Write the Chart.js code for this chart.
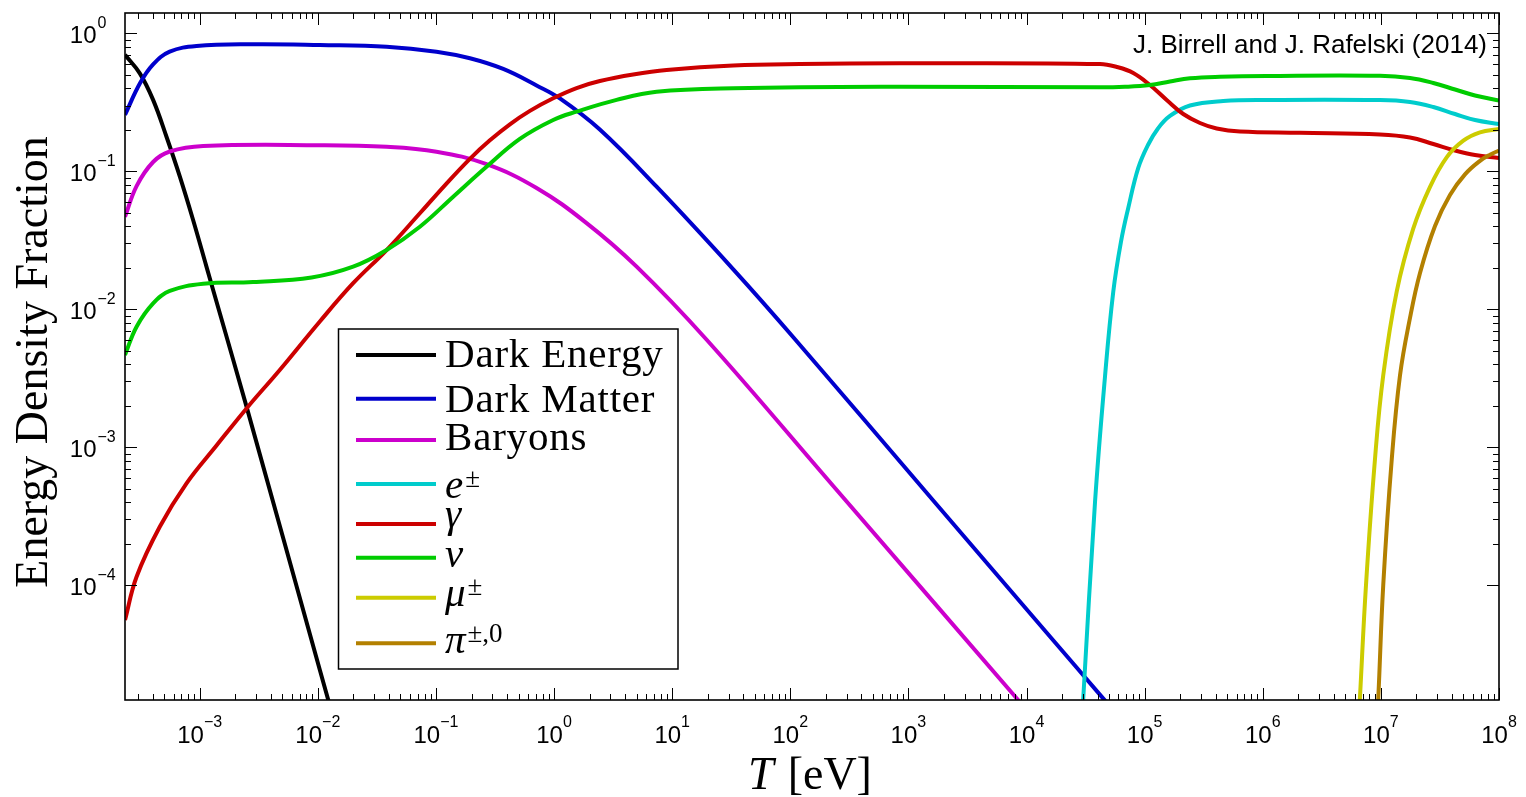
<!DOCTYPE html>
<html>
<head>
<meta charset="utf-8">
<script src="https://cdn.jsdelivr.net/npm/chart.js@4.4.1/dist/chart.umd.min.js"></script>
<style>
html,body{margin:0;padding:0;background:#fff;overflow:hidden}
#wrap{width:1526px;height:797px;position:relative}
</style>
</head>
<body>
<div id="wrap"><canvas id="c" width="1526" height="797"></canvas></div>
<script>
// ---- data (T in eV, energy density fraction) ----
const seriesNames = ["Dark Energy", "Dark Matter", "Baryons", "e", "γ", "ν", "μ", "π"];
const seriesSups  = ["", "", "", "±", "", "", "±", "±,0"];
const seriesColors = ["#000000", "#0000CC", "#CC00CC", "#00CCCC", "#CC0000", "#00CC00", "#CCCC00", "#B38000"];

const darkEnergyT = [2.33e-4, 3.11e-4, 4.03e-4, 5.24e-4, 6.79e-4, 8.79e-4, 1.14e-3, 1.48e-3, 2.49e-3, 1.04e-2, 1.535e-2];
const darkEnergyF = [0.70, 0.514, 0.330, 0.1776, 0.0916, 0.0444, 0.0204, 9.35e-3, 1.97e-3, 2.42e-5, 7.4e-6];

const darkMatterT = [2.33e-4, 3.12e-4, 4.03e-4, 5.57e-4, 9.40e-4, 2.83e-3, 1.04e-2, 3.82e-2, 0.101, 0.194, 0.371, 0.711, 1.12, 2.44, 7.38, 32.9, 106, 1622, 15780, 44670, 61800];
const darkMatterF = [0.257, 0.435, 0.596, 0.738, 0.812, 0.835, 0.825, 0.802, 0.738, 0.661, 0.553, 0.420, 0.338, 0.201, 0.0774, 0.01947, 6.27e-3, 4.11e-4, 4.24e-5, 1.503e-5, 1.085e-5];

const baryonT = [2.33e-4, 2.92e-4, 4.03e-4, 5.58e-4, 1.07e-3, 1.04e-2, 3.82e-2, 0.101, 0.268, 0.711, 1.885, 5.0, 19.5, 231, 8240, 11780];
const baryonF = [0.0469, 0.0783, 0.117, 0.1394, 0.153, 0.155, 0.151, 0.139, 0.1128, 0.0758, 0.0422, 0.0204, 6.04e-3, 5.23e-4, 1.51e-5, 1.06e-5];

const electronT = [28300, 30200, 38000, 46200, 54200, 63000, 72640, 88290, 106700, 129670, 163800, 241830, 463000, 1.079e6, 9.826e6, 1.764e7, 2.78e7, 4.243e7, 6.266e7, 1e8];
const electronF = [5.96e-6, 1.50e-5, 3.99e-4, 3.28e-3, 0.01334, 0.0308, 0.0543, 0.1059, 0.1554, 0.2047, 0.2522, 0.3005, 0.3239, 0.3295, 0.3289, 0.3187, 0.2931, 0.2607, 0.2359, 0.2207];

const photonT = [2.33e-4, 2.92e-4, 4.59e-4, 7.73e-4, 1.387e-3, 2.49e-3, 4.76e-3, 0.0104, 0.0199, 0.0382, 0.0731, 0.119, 0.1938, 0.2862, 0.4227, 0.6243, 0.9826, 1.551, 2.443, 4.675, 8.967, 32.86, 120.6, 847, 41900, 58270, 80080, 110870, 153570, 212260, 293900, 406950, 641100, 2.065e6, 9.826e6, 1.764e7, 2.78e7, 4.243e7, 6.266e7, 1e8];
const photonF = [5.58e-5, 1.15e-4, 2.65e-4, 5.47e-4, 1.028e-3, 1.91e-3, 3.63e-3, 8.16e-3, 0.01545, 0.0269, 0.0497, 0.0793, 0.1234, 0.168, 0.2196, 0.2747, 0.3389, 0.4024, 0.4522, 0.5043, 0.5436, 0.5861, 0.6008, 0.6079, 0.601, 0.5714, 0.5171, 0.4231, 0.3295, 0.2607, 0.2244, 0.2047, 0.1947, 0.1905, 0.1852, 0.1762, 0.158, 0.1418, 0.1315, 0.1251];

const neutrinoT = [2.33e-4, 2.92e-4, 4.03e-4, 5.58e-4, 1.07e-3, 2.83e-3, 8.85e-3, 0.0199, 0.0382, 0.0731, 0.140, 0.268, 0.513, 0.983, 1.549, 3.38, 7.38, 32.9, 847, 41900, 68110, 110900, 163800, 242100, 434100, 1.079e6, 9.826e6, 1.764e7, 2.78e7, 4.243e7, 6.266e7, 1e8];
const neutrinoF = [4.66e-3, 7.48e-3, 0.01104, 0.01358, 0.01531, 0.01578, 0.01702, 0.02037, 0.0269, 0.0397, 0.0656, 0.108, 0.172, 0.236, 0.271, 0.330, 0.378, 0.401, 0.411, 0.407, 0.4107, 0.423, 0.4485, 0.473, 0.4853, 0.492, 0.4934, 0.4757, 0.4376, 0.3925, 0.3552, 0.3266];

const muonT = [6.15e6, 6.65e6, 7.48e6, 8.91e6, 1.047e7, 1.361e7, 1.879e7, 2.606e7, 3.606e7, 4.989e7, 6.902e7, 1e8];
const muonF = [4.4e-6, 1.53e-5, 1.0e-4, 8.17e-4, 3.32e-3, 0.01343, 0.0384, 0.0773, 0.1265, 0.167, 0.192, 0.203];

const pionT = [8.91e6, 9.51e6, 1.047e7, 1.236e7, 1.452e7, 1.764e7, 2.144e7, 2.872e7, 3.846e7, 5.154e7, 6.904e7, 8.39e7, 1e8];
const pionF = [5.4e-6, 1.53e-5, 1.0e-4, 8.17e-4, 3.32e-3, 8.65e-3, 0.01833, 0.04018, 0.06744, 0.09511, 0.1192, 0.1322, 0.1418];

const xTickExps = [-3, -2, -1, 0, 1, 2, 3, 4, 5, 6, 7, 8];
const yTickExps = [0, -1, -2, -3, -4];
const XMIN = 2.33e-4, XMAX = 1e8, YMIN = 1.468e-5, YMAX = 1.408;

const annotationText = "J. Birrell and J. Rafelski (2014)";
const yTitle = "Energy Density Fraction";
const xTitleVar = "T", xTitleUnit = "[eV]";

// ---- build chart ----
const seriesT = [darkEnergyT, darkMatterT, baryonT, electronT, photonT, neutrinoT, muonT, pionT];
const seriesF = [darkEnergyF, darkMatterF, baryonF, electronF, photonF, neutrinoF, muonF, pionF];

const datasets = seriesNames.map((name, i) => ({
  label: name + seriesSups[i],
  data: seriesT[i].map((t, j) => ({x: t, y: seriesF[i][j]})),
  borderColor: seriesColors[i],
  backgroundColor: seriesColors[i],
  borderWidth: 4,
  pointRadius: 0,
  pointHoverRadius: 0,
  showLine: true,
  fill: false,
  tension: 0.4,
  borderJoinStyle: 'round',
  clip: 0,
  order: seriesNames.length - 1 - i
}));

const SANS = "'Liberation Sans', Arial, Helvetica, sans-serif";
const SERIF = "'Liberation Serif', 'Times New Roman', serif";

function supText(s) { return s.replace(/-/g, "\u2212"); }

const framePlugin = {
  id: 'frame',
  afterDatasetsDraw(chart) {
    const ctx = chart.ctx;
    const xs = chart.scales.x, ys = chart.scales.y;
    const a = chart.chartArea;
    ctx.save();
    // minor/major ticks on all four sides
    ctx.strokeStyle = '#000';
    ctx.lineWidth = 1;
    ctx.beginPath();
    for (let k = -4; k <= 8; k++) {
      for (let m = 1; m <= 9; m++) {
        const v = m * Math.pow(10, k);
        const len = m === 1 ? 12 : 6;
        if (v >= XMIN * 0.9999 && v <= XMAX * 1.0001) {
          const px = Math.round(xs.getPixelForValue(v)) + 0.5;
          ctx.moveTo(px, a.bottom); ctx.lineTo(px, a.bottom - len);
          ctx.moveTo(px, a.top); ctx.lineTo(px, a.top + len);
        }
        if (v >= YMIN && v <= YMAX) {
          const py = Math.round(ys.getPixelForValue(v)) + 0.5;
          ctx.moveTo(a.left, py); ctx.lineTo(a.left + len, py);
          ctx.moveTo(a.right, py); ctx.lineTo(a.right - len, py);
        }
      }
    }
    ctx.stroke();
    // axis box
    ctx.lineWidth = 1.6;
    ctx.strokeRect(a.left, a.top, a.right - a.left, a.bottom - a.top);

    // tick labels
    ctx.fillStyle = '#000';
    ctx.textBaseline = 'alphabetic';
    xTickExps.forEach(e => {
      const px = xs.getPixelForValue(Math.pow(10, e));
      ctx.font = "24px " + SANS;
      const w1 = ctx.measureText("10").width;
      ctx.font = "16px " + SANS;
      const sup = supText(String(e));
      const w2 = ctx.measureText(sup).width;
      const x0 = px - (w1 + w2) / 2;
      ctx.font = "24px " + SANS;
      ctx.textAlign = 'left';
      ctx.fillText("10", x0, 743);
      ctx.font = "16px " + SANS;
      ctx.fillText(sup, x0 + w1, 727);
    });
    yTickExps.forEach(e => {
      const py = ys.getPixelForValue(Math.pow(10, e));
      ctx.font = "24px " + SANS;
      ctx.textAlign = 'right';
      ctx.fillText("10", 96.5, py + 9.8);
      ctx.font = "16px " + SANS;
      ctx.textAlign = 'left';
      ctx.fillText(supText(String(e)), 97.5, py - 5.2);
    });

    // annotation
    ctx.font = "26px " + SANS;
    ctx.textAlign = 'right';
    ctx.fillText(annotationText, 1487, 53);

    // y title
    ctx.save();
    ctx.translate(46.5, 362);
    ctx.rotate(-Math.PI / 2);
    ctx.font = "46px " + SERIF;
    ctx.textAlign = 'center';
    ctx.fillText(yTitle, 0, 0);
    ctx.restore();

    // x title
    ctx.textAlign = 'left';
    ctx.font = "italic 46px " + SERIF;
    const wT = ctx.measureText(xTitleVar).width;
    ctx.font = "46px " + SERIF;
    const wU = ctx.measureText(xTitleUnit).width;
    const gap = 14;
    const xs0 = 810 - (wT + gap + wU) / 2;
    ctx.font = "italic 46px " + SERIF;
    ctx.fillText(xTitleVar, xs0, 789);
    ctx.font = "46px " + SERIF;
    ctx.fillText(xTitleUnit, xs0 + wT + gap, 789);

    // legend
    const lx = 338.5, ly = 329, lw = 339.5, lh = 340;
    ctx.fillStyle = '#fff';
    ctx.fillRect(lx, ly, lw, lh);
    ctx.strokeStyle = '#000';
    ctx.lineWidth = 1.5;
    ctx.strokeRect(lx, ly, lw, lh);
    const rowY = [355, 398.7, 440, 484, 524, 557.7, 597.7, 643.3];
    const baseY = [366.7, 411.7, 450, 498.3, 526.7, 566.7, 606, 653.3];
    seriesNames.forEach((name, i) => {
      ctx.strokeStyle = seriesColors[i];
      ctx.lineWidth = 4;
      ctx.beginPath();
      ctx.moveTo(356, rowY[i]);
      ctx.lineTo(436, rowY[i]);
      ctx.stroke();
      ctx.fillStyle = '#000';
      ctx.textAlign = 'left';
      const isMath = i >= 3;
      ctx.font = (isMath ? "italic " : "") + "41px " + SERIF;
      if (!isMath) ctx.letterSpacing = "0.8px";
      ctx.fillText(name, 445, baseY[i]);
      ctx.letterSpacing = "0px";
      if (seriesSups[i]) {
        const w = ctx.measureText(name).width;
        ctx.font = "27px " + SERIF;
        ctx.fillText(seriesSups[i], 445 + w + 2, baseY[i] - 11);
      }
    });
    ctx.restore();
  }
};

const chart = new Chart(document.getElementById('c').getContext('2d'), {
  type: 'scatter',
  data: {datasets},
  options: {
    responsive: false,
    animation: false,
    events: [],
    layout: {padding: {top: 13, right: 27, left: 0, bottom: 0}},
    plugins: {legend: {display: false}, tooltip: {enabled: false}},
    scales: {
      x: {
        type: 'logarithmic', min: XMIN, max: XMAX, bounds: 'data',
        grid: {display: false}, border: {display: false},
        ticks: {display: false},
        afterBuildTicks: s => { s.min = XMIN; s.max = XMAX; s.ticks = xTickExps.map(e => ({value: Math.pow(10, e)})); },
        afterFit: s => { s.height = 97; }
      },
      y: {
        type: 'logarithmic', min: YMIN, max: YMAX, bounds: 'data',
        grid: {display: false}, border: {display: false},
        ticks: {display: false},
        afterBuildTicks: s => { s.min = YMIN; s.max = YMAX; s.ticks = yTickExps.map(e => ({value: Math.pow(10, e)})); },
        afterFit: s => { s.height = undefined; s.width = 125; }
      }
    }
  },
  plugins: [framePlugin]
});
</script>
</body>
</html>
